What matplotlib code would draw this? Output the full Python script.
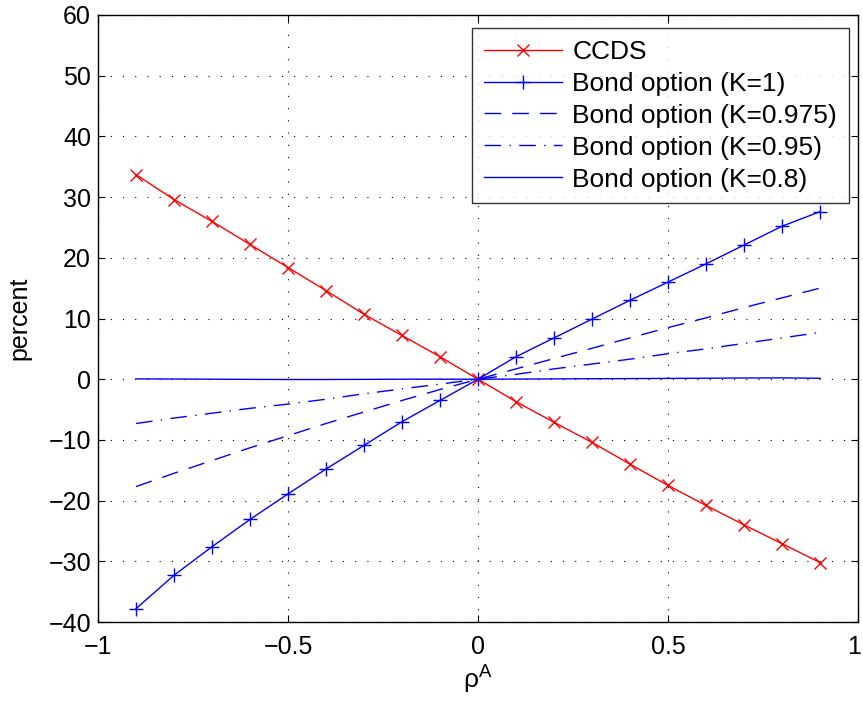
import numpy as np
import matplotlib
matplotlib.use('Agg')
import matplotlib.pyplot as plt
import matplotlib.transforms as mtransforms

plt.rcParams['font.family'] = ['Liberation Sans', 'DejaVu Sans']
plt.rcParams['mathtext.fontset'] = 'custom'
plt.rcParams['mathtext.rm'] = 'Liberation Sans'
plt.rcParams['mathtext.it'] = 'Liberation Sans:italic'
plt.rcParams['axes.unicode_minus'] = False

rho = [-0.9, -0.8, -0.7, -0.6, -0.5, -0.4, -0.3, -0.2, -0.1, 0.0,
       0.1, 0.2, 0.3, 0.4, 0.5, 0.6, 0.7, 0.8, 0.9]

ccds = [33.7, 29.6, 26.0, 22.2, 18.4, 14.6, 10.7, 7.2, 3.7, 0.0,
        -3.7, -7.1, -10.4, -14.0, -17.5, -20.8, -24.0, -27.1, -30.2]
bond_k1 = [-37.8, -32.3, -27.6, -23.1, -18.9, -14.8, -10.9, -7.0, -3.5, 0.0,
           3.7, 6.8, 9.9, 13.0, 16.0, 19.0, 22.1, 25.2, 27.6]
bond_k0975 = [-17.7, -15.5, -13.4, -11.3, -9.3, -7.3, -5.4, -3.5, -1.7, 0.0,
              1.7, 3.4, 5.1, 6.8, 8.5, 10.1, 11.8, 13.4, 15.0]
bond_k095 = [-7.3, -6.4, -5.6, -4.8, -4.1, -3.3, -2.4, -1.6, -0.8, 0.0,
             0.8, 1.7, 2.5, 3.3, 4.2, 5.0, 5.9, 6.8, 7.7]
bond_k08 = [0.05, 0.03, 0.0, -0.03, -0.05, -0.05, -0.03, 0.0, 0.0, 0.0,
            0.02, 0.05, 0.08, 0.1, 0.13, 0.16, 0.2, 0.22, 0.15]

xticks = [-1, -0.5, 0, 0.5, 1]
xticklabels = ['\u22121', '\u22120.5', '0', '0.5', '1']
yticks = list(range(-40, 61, 10))
yticklabels = ['\u221240', '\u221230', '\u221220', '\u221210', '0', '10', '20', '30', '40', '50', '60']

fig = plt.figure(figsize=(8.63, 7.03), dpi=100)
ax = fig.add_axes([98 / 863, 1 - 622 / 703, 760 / 863, 607 / 703])

ax.plot(rho, ccds, color='red', marker='x', markersize=8, mew=1, lw=1, label='CCDS')
ax.plot(rho, bond_k1, color='blue', marker='+', markersize=10, mew=1, lw=1, label='Bond option (K=1)')
ax.plot(rho, bond_k0975, color='blue', ls=(0, (12, 8)), lw=1, label='Bond option (K=0.975)')
ax.plot(rho, bond_k095, color='blue', ls=(0, (12, 6, 1, 6)), lw=1, label='Bond option (K=0.95)')
ax.plot(rho, bond_k08, color='blue', lw=1, label='Bond option (K=0.8)')

ax.set_xlim(-1, 1)
ax.set_ylim(-40, 60)
ax.set_xticks(xticks)
ax.set_xticklabels(xticklabels)
ax.set_yticks(yticks)
ax.set_yticklabels(yticklabels)
ax.tick_params(direction='in', top=True, right=True, labelsize=18, length=5)
ax.tick_params(axis='x', pad=9)
ax.tick_params(axis='y', pad=5)
ax.grid(True, color='black', ls=(0, (1, 10)), lw=0.8)
for s in ax.spines.values():
    s.set_linewidth(1)

# the last x label sits on the figure edge; nudge it a little to the left
last = ax.get_xticklabels()[-1]
last.set_transform(last.get_transform() + mtransforms.ScaledTranslation(-3 / 72, 0, fig.dpi_scale_trans))

ax.set_xlabel(r'$\mathrm{\rho}^{\mathrm{A}}$', fontsize=19, labelpad=4)
ax.set_ylabel('percent', fontsize=18, labelpad=12)

leg = ax.legend(loc='upper right', bbox_to_anchor=(849 / 863, 1 - 28 / 703),
                bbox_transform=fig.transFigure, borderaxespad=0,
                fontsize=19, handlelength=2.95, frameon=True,
                fancybox=False, edgecolor='black',
                labelspacing=0.3, borderpad=0.45, handletextpad=0.4)
leg.get_frame().set_linewidth(1)

fig.savefig('out.png', dpi=100)
